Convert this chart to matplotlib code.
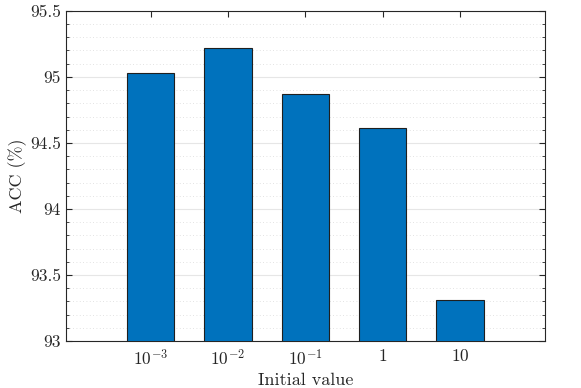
import numpy as np
import matplotlib
matplotlib.use("Agg")
import matplotlib.pyplot as plt
from matplotlib.ticker import MultipleLocator

# values
labels = [r'$10^{-3}$', r'$10^{-2}$', r'$10^{-1}$', r'$1$', r'$10$']
acc = [95.03, 95.22, 94.87, 94.61, 93.31]
yticks = [93, 93.5, 94, 94.5, 95, 95.5]
ytick_labels = ['93', '93.5', '94', '94.5', '95', '95.5']

plt.rcParams['font.family'] = 'serif'
plt.rcParams['font.serif'] = ['cmr10']
plt.rcParams['mathtext.fontset'] = 'cm'
plt.rcParams['axes.unicode_minus'] = False

fig = plt.figure(figsize=(5.81, 3.88), dpi=100)
ax = fig.add_axes([0.113, 0.121, 0.825, 0.851])

pos = np.arange(1, len(acc) + 1)
ax.bar(pos, acc, width=0.61, color='#0072BD', edgecolor='#1f1f1f', linewidth=0.8, zorder=3)

ax.set_xlim(-0.1, 6.1)
ax.set_ylim(93, 95.5)
ax.set_xticks(pos)
ax.set_xticklabels(labels)
ax.set_yticks(yticks)
ax.set_yticklabels(ytick_labels)
ax.yaxis.set_minor_locator(MultipleLocator(0.1))

ax.grid(axis='y', which='major', color='#e6e6e6', linewidth=0.8, zorder=0)
ax.grid(axis='y', which='minor', color='#d9d9d9', linestyle=(0, (1, 3)), linewidth=0.6, zorder=0)

for s in ax.spines.values():
    s.set_color('#262626')
    s.set_linewidth(0.8)
ax.tick_params(which='both', direction='in', top=True, right=True, colors='#262626',
               labelsize=12.5, labelcolor='#262626')
ax.tick_params(which='major', length=4)
ax.tick_params(axis='x', which='minor', bottom=False, top=False)
ax.tick_params(axis='y', which='minor', length=2)
ax.tick_params(axis='x', which='major', pad=5)

ax.set_xlabel('Initial value', fontsize=13, color='#262626', labelpad=3)
ax.set_ylabel('ACC (%)', fontsize=13, color='#262626', labelpad=2)

fig.savefig('out.png', dpi=100)
